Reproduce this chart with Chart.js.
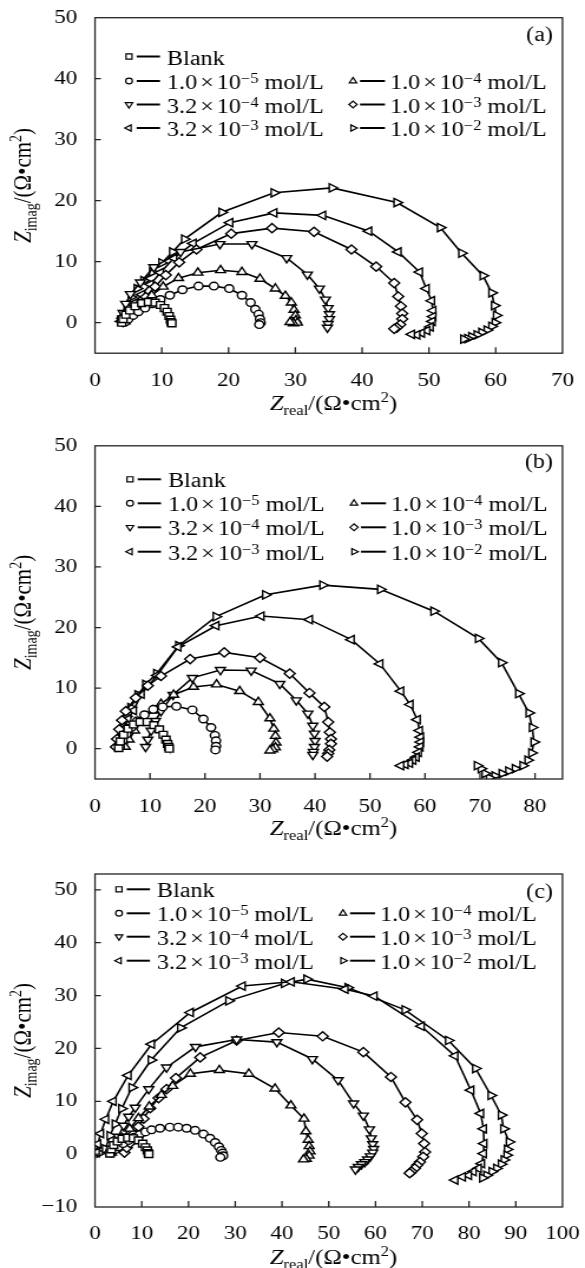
<!DOCTYPE html>
<html><head><meta charset="utf-8">
<script src="https://cdn.jsdelivr.net/npm/chart.js@4.4.1/dist/chart.umd.min.js"></script>
<style>
html,body{margin:0;padding:0;background:#fff;}
#wrap{position:relative;width:585px;height:1268px;overflow:hidden;background:#fff;}
canvas{position:absolute;left:0;}
</style></head><body>
<div id="wrap">
<canvas id="ca" width="496" height="420" style="top:0px;width:585px;height:420px"></canvas>
<canvas id="cb" width="496" height="420" style="top:420px;width:585px;height:420px"></canvas>
<canvas id="cc" width="496" height="428" style="top:840px;width:585px;height:428px"></canvas>
</div>
<script>
// ---------- legend text pieces ----------
const seriesMantissa = ['1.0', '1.0', '3.2', '1.0', '3.2', '1.0'];
const seriesExponent = ['−5', '−4', '−4', '−3', '−3', '−2'];
const blankName = 'Blank';
const unitName = ' mol/L';
const panelLabels = ['(a)', '(b)', '(c)'];

// ---------- axis ranges / ticks ----------
const xMaxes = [70, 85, 100];
const yMins = [-5, -5, -10];
const yMaxes = [50, 50, 53];
const tickStep = 10;

// ---------- panel (a) data: [Zreal, Zimag] ----------
const A_blank = [[4.0,0.0],[4.2,0.6],[4.6,1.3],[5.2,2.0],[6.0,2.7],[7.0,3.2],[8.0,3.4],[9.0,3.3],[9.8,2.9],[10.4,2.4],[10.8,1.8],[11.1,1.1],[11.3,0.5],[11.4,0.1],[11.5,-0.1]];
const A_1e5 = [[4.5,0.1],[5.0,0.6],[5.7,1.2],[6.5,1.8],[7.5,2.4],[8.6,3.1],[9.8,3.8],[11.2,4.5],[13.1,5.4],[15.5,6.0],[17.8,6.0],[20.1,5.6],[22.0,4.5],[23.3,3.3],[24.0,2.2],[24.5,1.4],[24.7,0.6],[24.8,0.0],[24.6,-0.3]];
const A_1e4 = [[4.5,0.2],[5.1,1.0],[6.0,2.0],[7.1,3.2],[8.5,4.5],[10.2,5.9],[12.5,7.3],[15.4,8.2],[18.8,8.6],[22.0,8.3],[24.7,7.2],[27.0,5.6],[28.5,4.4],[29.4,3.3],[29.8,2.1],[30.0,1.2],[30.1,0.4],[30.3,0.0],[29.7,-0.1],[29.2,0.1]];
const A_32e4 = [[4.0,0.3],[4.2,1.6],[4.6,3.1],[5.3,4.7],[6.8,6.6],[8.8,9.1],[12.8,11.6],[18.7,12.9],[23.5,12.9],[28.7,10.6],[31.8,7.9],[33.6,5.6],[34.5,3.8],[34.9,2.4],[35.1,1.4],[35.1,0.6],[34.9,-0.2],[34.8,-0.8]];
const A_1e3 = [[4.2,0.1],[4.7,0.8],[5.4,1.7],[6.4,2.8],[7.6,4.2],[9.0,5.9],[10.6,7.8],[12.6,9.9],[15.2,12.0],[20.4,14.6],[26.5,15.5],[32.8,14.9],[38.4,12.0],[42.1,9.2],[44.8,6.5],[45.4,4.3],[45.8,2.7],[46.0,1.5],[46.0,0.6],[45.7,-0.3],[45.2,-0.8],[44.8,-1.0]];
const A_32e3 = [[3.9,0.2],[4.3,1.0],[5.0,2.0],[5.9,3.2],[7.0,4.6],[8.3,6.3],[9.8,8.2],[11.8,10.6],[14.7,13.0],[20.2,16.4],[26.8,18.0],[34.1,17.6],[41.0,15.0],[45.4,11.6],[48.6,8.3],[49.6,5.6],[50.4,3.6],[50.6,2.0],[50.6,1.0],[50.5,0.2],[50.2,-0.7],[49.7,-1.3],[48.9,-1.7],[48.2,-2.0],[47.4,-1.9]];
const A_1e2 = [[3.8,0.4],[4.2,1.3],[4.8,2.6],[5.4,4.2],[6.3,5.6],[7.3,6.9],[8.6,8.3],[10.0,9.8],[11.6,11.6],[13.4,13.7],[19.0,18.1],[26.8,21.3],[35.5,22.1],[45.2,19.7],[51.7,15.6],[54.9,11.4],[58.1,7.7],[59.4,4.9],[59.8,2.8],[60.1,1.2],[59.9,0.0],[59.4,-0.6],[58.7,-1.2],[57.9,-1.6],[57.2,-2.0],[56.4,-2.3],[55.8,-2.6],[55.2,-2.7]];

// ---------- panel (b) data ----------
const B_blank = [[4.3,0.1],[4.6,1.2],[5.2,2.3],[6.0,3.3],[7.0,4.0],[8.2,4.4],[9.5,4.4],[10.7,3.9],[11.7,3.2],[12.4,2.3],[12.9,1.5],[13.2,0.8],[13.4,0.3],[13.5,0.0]];
const B_1e5 = [[4.5,0.3],[5.0,1.3],[5.7,2.4],[6.6,3.5],[7.7,4.6],[9.0,5.6],[10.6,6.5],[12.3,6.9],[14.8,7.0],[17.7,6.4],[19.7,4.9],[21.1,3.5],[21.8,2.2],[22.0,1.3],[22.0,0.4],[21.9,-0.2]];
const B_1e4 = [[5.5,0.3],[6.2,1.5],[7.2,3.0],[8.6,4.7],[10.5,6.3],[12.0,7.4],[14.3,8.9],[17.9,10.2],[22.1,10.6],[26.3,9.5],[29.7,7.7],[31.8,5.0],[32.5,3.3],[32.8,2.1],[32.9,1.0],[32.8,0.2],[32.3,-0.1],[31.8,-0.3]];
const B_32e4 = [[9.2,0.3],[9.6,1.5],[10.2,3.0],[11.0,4.6],[12.0,6.2],[14.2,8.9],[17.7,11.7],[22.8,13.0],[28.4,12.9],[33.6,10.7],[36.6,8.0],[38.7,5.8],[39.6,3.8],[39.9,2.5],[40.0,1.3],[39.9,0.3],[39.7,-0.5],[39.6,-1.0]];
const B_1e3 = [[3.8,0.3],[4.0,1.6],[4.4,3.2],[4.9,4.7],[5.6,6.2],[7.4,8.4],[9.6,10.4],[12.0,12.0],[17.3,14.8],[23.5,15.9],[30.0,15.0],[35.4,12.4],[39.0,9.2],[41.7,6.9],[42.4,4.4],[42.7,2.7],[42.9,1.6],[42.9,0.8],[42.6,-0.2],[42.4,-0.8],[42.2,-1.3]];
const B_32e3 = [[4.2,0.5],[4.6,1.8],[5.2,3.3],[6.0,4.9],[7.0,6.3],[8.4,9.0],[11.3,12.1],[15.1,16.8],[22.0,20.3],[30.2,21.9],[39.0,21.3],[46.6,18.0],[51.8,14.0],[55.6,9.5],[57.3,7.3],[58.6,4.8],[59.0,3.0],[59.2,1.9],[59.2,1.1],[59.1,0.3],[58.8,-0.6],[58.4,-1.4],[57.8,-1.9],[57.2,-2.4],[56.4,-2.6],[55.6,-2.8]];
const B_1e2 = [[4.5,0.8],[4.8,2.2],[5.2,3.8],[5.7,5.3],[6.5,6.8],[7.8,8.9],[9.2,10.6],[11.2,12.4],[15.2,17.0],[22.0,21.8],[31.0,25.4],[41.4,27.0],[51.9,26.3],[61.6,22.7],[69.7,18.2],[73.9,14.2],[77.0,9.1],[78.9,5.9],[79.5,3.5],[79.8,1.1],[79.4,-0.7],[78.7,-1.9],[77.8,-2.8],[76.4,-3.3],[75.2,-3.7],[74.0,-4.1],[72.7,-4.5],[71.7,-4.8],[70.9,-4.1],[70.2,-3.3],[69.5,-2.8]];

// ---------- panel (c) data ----------
const C_blank = [[3.2,0.1],[3.5,0.9],[4.0,1.7],[4.8,2.4],[5.8,2.9],[7.0,3.1],[8.2,3.0],[9.3,2.6],[10.2,2.0],[10.8,1.3],[11.2,0.7],[11.4,0.2],[11.5,0.0]];
const C_1e5 = [[3.5,0.2],[4.2,0.8],[5.0,1.4],[6.0,2.0],[7.2,2.6],[8.4,3.2],[9.6,3.7],[10.8,4.2],[12.1,4.6],[13.9,4.9],[16.0,5.1],[17.8,5.1],[19.6,4.9],[21.4,4.5],[23.2,3.8],[24.6,3.0],[25.7,2.2],[26.5,1.4],[27.0,0.7],[27.3,0.2],[27.4,-0.3],[26.8,-0.6]];
const C_1e4 = [[3.5,0.3],[4.5,1.5],[5.8,3.0],[7.4,4.8],[9.3,6.8],[11.6,9.0],[14.2,11.2],[16.6,12.9],[20.4,15.2],[26.6,15.9],[32.9,15.2],[38.5,12.4],[41.9,9.2],[44.7,6.7],[45.1,4.3],[45.6,2.7],[45.8,1.5],[46.0,0.5],[45.8,-0.3],[45.2,-0.9],[44.6,-1.0]];
const C_32e4 = [[3.5,0.5],[4.2,1.8],[5.0,3.3],[6.1,5.4],[7.2,7.1],[8.6,8.8],[11.5,12.3],[15.3,16.4],[21.5,20.3],[30.3,21.7],[38.9,21.2],[46.5,18.0],[52.0,14.0],[55.3,9.6],[57.4,7.3],[58.7,4.7],[59.1,3.0],[59.4,1.9],[59.6,1.0],[59.4,0.3],[58.9,-0.4],[58.3,-1.0],[57.7,-1.5],[57.0,-1.9],[56.3,-2.4],[55.7,-2.9]];
const C_1e3 = [[6.3,0.3],[6.8,1.2],[7.5,2.1],[8.2,3.8],[9.3,5.2],[10.4,6.7],[11.8,8.7],[13.6,10.6],[15.3,12.3],[17.3,14.4],[22.5,18.3],[30.3,21.5],[39.3,23.0],[48.7,22.3],[57.4,19.3],[63.3,14.6],[66.4,9.8],[68.9,6.5],[69.9,3.9],[70.4,2.0],[70.6,0.4],[70.2,-0.5],[69.5,-1.5],[68.9,-2.1],[68.4,-2.7],[67.7,-3.3],[67.3,-3.6]];
const C_32e3 = [[0.3,0.3],[0.6,1.9],[1.2,3.9],[2.3,6.6],[3.9,10.0],[7.1,14.9],[12.1,20.8],[20.4,26.8],[31.5,31.8],[42.0,32.6],[53.5,31.2],[59.7,29.9],[69.8,24.2],[77.0,18.6],[80.4,12.1],[82.5,7.7],[83.1,4.8],[83.2,2.0],[83.1,0.1],[82.7,-1.8],[82.0,-2.7],[80.9,-3.3],[79.9,-4.0],[78.6,-4.3],[77.0,-4.9]];
const C_1e2 = [[1.0,0.2],[2.2,1.0],[3.2,3.5],[4.3,5.7],[5.7,8.6],[7.9,12.6],[12.0,17.8],[18.3,23.9],[28.6,29.0],[40.5,32.3],[45.3,33.1],[54.1,31.5],[66.3,27.3],[75.6,21.5],[81.4,16.2],[84.7,11.1],[86.9,7.4],[87.4,4.8],[88.6,2.3],[88.2,0.9],[88.1,-0.2],[87.5,-1.1],[86.9,-1.9],[85.9,-2.7],[84.9,-3.3],[83.8,-4.0],[82.9,-4.5]];

const panelSeries = [
  [A_blank, A_1e5, A_1e4, A_32e4, A_1e3, A_32e3, A_1e2],
  [B_blank, B_1e5, B_1e4, B_32e4, B_1e3, B_32e3, B_1e2],
  [C_blank, C_1e5, C_1e4, C_32e4, C_1e3, C_32e3, C_1e2]
];

// ---------- styling / layout (not data) ----------
const S = 585 / 496;          // horizontal stretch of the page image
const INK = '#000';
const FONT = '"Liberation Serif", "Times New Roman", serif';
const MARKERS = [
  {ps: 'rect', rot: 0, r: 4.8},
  {ps: 'circle', rot: 0, r: 3.8},
  {ps: 'triangle', rot: 0, r: 4.8},
  {ps: 'triangle', rot: 180, r: 4.8},
  {ps: 'rectRot', rot: 0, r: 4.6},
  {ps: 'triangle', rot: 270, r: 4.8},
  {ps: 'triangle', rot: 90, r: 4.8}
];
// legend slots: [row, col] per series
const LEGEND_SLOTS = [[0,0],[1,0],[1,1],[2,0],[2,1],[3,0],[3,1]];

const LAYOUT = [
  {id: 'ca', H: 420, top: 17.7, bottom: 353.2, padX: 8, xTitleY: 410, rows: [56.5, 81, 104.5, 128], dx: 0, labelY: 35},
  {id: 'cb', H: 420, top: 25.8, bottom: 359.0, padX: 8.5, xTitleY: 415, rows: [59.3, 83.3, 107.3, 131.7], dx: 1, labelY: 42},
  {id: 'cc', H: 428, top: 34.0, bottom: 367.0, padX: 7, xTitleY: 424, rows: [49.3, 73.3, 96.7, 120.7], dx: -10, labelY: 52}
];

function fontStr(size, italic) { return (italic ? 'italic ' : '') + size + 'px ' + FONT; }

function drawRich(ctx, parts, x, y, align) {
  let w = 0;
  parts.forEach(p => { ctx.font = fontStr(p.size || 20.5, p.italic); p.w = ctx.measureText(p.t).width + (p.gapL || 0) + (p.gapR || 0); w += p.w; });
  let cx = align === 'center' ? x - w / 2 : x;
  ctx.textAlign = 'left';
  ctx.textBaseline = 'alphabetic';
  parts.forEach(p => {
    ctx.font = fontStr(p.size || 20.5, p.italic);
    ctx.fillText(p.t, cx + (p.gapL || 0), y + (p.dy || 0));
    cx += p.w;
  });
}

function axisTitle(sub) {
  return [
    {t: 'Z', italic: true, size: 21},
    {t: sub, size: 14, dy: 5},
    {t: '/(Ω•cm', size: 21},
    {t: '2', size: 14, dy: -8},
    {t: ')', size: 21}
  ];
}

function legendText(i) {
  if (i === 0) return [{t: blankName}];
  return [
    {t: seriesMantissa[i - 1]},
    {t: '×', gapL: 2.5, gapR: 2.5},
    {t: '10'},
    {t: seriesExponent[i - 1], size: 14, dy: -6},
    {t: unitName}
  ];
}

function decor(k) {
  const L = LAYOUT[k];
  return {
    id: 'decor' + k,
    afterDraw(chart) {
      const ctx = chart.ctx, a = chart.chartArea, sx = chart.scales.x, sy = chart.scales.y;
      ctx.save();
      ctx.strokeStyle = '#222'; ctx.fillStyle = INK; ctx.lineWidth = 1.3;
      ctx.strokeRect(a.left, a.top, a.right - a.left, a.bottom - a.top);
      ctx.beginPath();
      sx.ticks.forEach(t => {
        const x = sx.getPixelForValue(t.value);
        if (x > a.left + 1 && x < a.right - 1) { ctx.moveTo(x, a.bottom); ctx.lineTo(x, a.bottom - 6); }
      });
      sy.ticks.forEach(t => {
        const y = sy.getPixelForValue(t.value);
        if (y > a.top + 1 && y < a.bottom - 1) { ctx.moveTo(a.left, y); ctx.lineTo(a.left + 5, y); }
      });
      ctx.stroke();

      // axis titles
      ctx.fillStyle = INK;
      drawRich(ctx, axisTitle('real'), (a.left + a.right) / 2 + 4, L.xTitleY, 'center');
      ctx.save();
      ctx.translate(22 / S, (a.top + a.bottom) / 2);
      ctx.rotate(-Math.PI / 2);
      drawRich(ctx, axisTitle('imag'), 0, 7, 'center');
      ctx.restore();

      // panel label
      ctx.font = fontStr(20.5, false);
      ctx.textAlign = 'right'; ctx.textBaseline = 'alphabetic';
      ctx.fillText(panelLabels[k], 553 / S, L.labelY + 6);

      // legend
      const cols = [{m: 129, l0: 136.7, l1: 160, t: 167}, {m: 353, l0: 360, l1: 385, t: 390}];
      LEGEND_SLOTS.forEach((slot, i) => {
        const y = L.rows[slot[0]];
        const c = cols[slot[1]];
        const mk = MARKERS[i];
        ctx.lineWidth = 1.2; ctx.strokeStyle = INK; ctx.fillStyle = '#fff';
        Chart.helpers.drawPoint(ctx, {pointStyle: mk.ps, rotation: mk.rot, radius: mk.r * 0.75, borderWidth: 1.2}, (c.m + L.dx) / S, y);
        ctx.beginPath();
        ctx.lineWidth = 2;
        ctx.moveTo((c.l0 + L.dx) / S, y); ctx.lineTo((c.l1 + L.dx) / S, y);
        ctx.stroke();
        ctx.fillStyle = INK;
        drawRich(ctx, legendText(i), (c.t + L.dx) / S, y + 8, 'left');
      });
      ctx.restore();
    }
  };
}

function tickLabel(v) { return v < 0 ? '−' + Math.abs(v) : String(v); }

LAYOUT.forEach((L, k) => {
  const datasets = panelSeries[k].map((pts, i) => ({
    data: pts.map(p => ({x: p[0], y: p[1]})),
    showLine: true,
    borderColor: INK,
    borderWidth: 1.6,
    tension: 0,
    pointStyle: MARKERS[i].ps,
    pointRotation: MARKERS[i].rot,
    pointRadius: MARKERS[i].r,
    pointHoverRadius: MARKERS[i].r,
    pointBorderWidth: 1.4,
    pointBackgroundColor: '#fff',
    pointBorderColor: INK
  }));
  new Chart(document.getElementById(L.id), {
    type: 'scatter',
    data: {datasets},
    options: {
      responsive: false,
      animation: false,
      devicePixelRatio: 1,
      layout: {padding: {left: 0, right: 496 - 562.5 / S, top: L.top, bottom: 0}},
      plugins: {legend: {display: false}, tooltip: {enabled: false}},
      scales: {
        x: {
          type: 'linear', min: 0, max: xMaxes[k],
          ticks: {stepSize: tickStep, includeBounds: false, padding: L.padX, color: INK, font: {family: FONT, size: 19.5}, maxRotation: 0, autoSkip: false, callback: tickLabel},
          grid: {display: false}, border: {display: false},
          afterFit(s) { s.height = L.H - L.bottom; s.paddingLeft = 0; s.paddingRight = 0; }
        },
        y: {
          type: 'linear', min: yMins[k], max: yMaxes[k],
          ticks: {stepSize: tickStep, includeBounds: false, padding: 7, color: INK, font: {family: FONT, size: 19.5}, autoSkip: false, callback: tickLabel},
          grid: {display: false}, border: {display: false},
          afterFit(s) { s.width = 95 / S; s.paddingTop = 0; s.paddingBottom = 0; }
        }
      }
    },
    plugins: [decor(k)]
  });
});
</script>
</body></html>
